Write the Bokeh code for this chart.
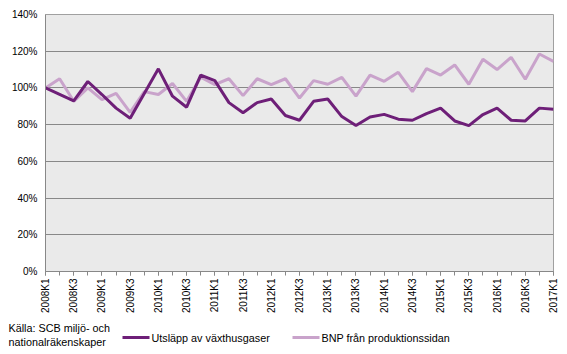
import math
from bokeh.plotting import figure
from bokeh.layouts import column
from bokeh.models import Range1d, FixedTicker, PrintfTickFormatter
from bokeh.core.properties import value
from bokeh.embed import file_html
from bokeh.resources import INLINE

quarters = [f"{y}K{q}" for y in range(2008, 2017) for q in (1, 2, 3, 4)] + ["2017K1"]

utslapp = [100, 96.5, 93, 103.5, 96.4, 89, 83.5, 97,
           110.4, 95.5, 89.5, 107, 104, 92, 86.5, 92,
           94, 85, 82.4, 92.7, 94, 84.4, 79.5, 84.2,
           85.6, 83, 82.4, 86, 89, 82, 79.5, 85.5,
           89, 82.4, 82, 89, 88.4]

bnp = [100, 105, 92.7, 100, 93.6, 97, 86.7, 98,
       96.4, 102.4, 92.7, 105.8, 101.8, 105, 95.8, 105,
       101.8, 105, 94.5, 104, 102, 105.8, 95.5, 107,
       103.6, 108.5, 98, 110.5, 107, 112.5, 102, 115.6,
       110, 116.7, 104.7, 118.5, 114.5]

y_ticks = [0, 20, 40, 60, 80, 100, 120, 140]

name_utslapp = "Utsläpp av växthusgaser"
name_bnp = "BNP från produktionssidan"
source_lines = ["Källa: SCB miljö- och", "nationalräkenskaper"]

dark = "#6E1F78"
light = "#C9A3CB"
FONT = "Liberation Sans"
LEG_SIZE = "10.8px"

idx = list(range(len(quarters)))

p = figure(width=567, height=320, output_backend="svg", toolbar_location=None,
           x_range=Range1d(0, len(quarters) - 1), y_range=Range1d(0, 140),
           min_border_left=45, min_border_right=14, min_border_top=14,
           min_border_bottom=49)
p.background_fill_color = "#EAEAEA"
p.border_fill_color = "white"
p.outline_line_color = "#A0A0A0"
p.outline_line_width = 1

p.line(idx, bnp, line_color=light, line_width=3)
p.line(idx, utslapp, line_color=dark, line_width=3)

# x axis
p.xaxis.ticker = FixedTicker(ticks=list(range(0, len(quarters), 2)),
                             minor_ticks=idx)
p.xaxis.major_label_overrides = {i: quarters[i] for i in range(0, len(quarters), 2)}
p.xaxis.major_label_orientation = math.pi / 2
p.xaxis.major_tick_in = 0
p.xaxis.major_tick_out = 4
p.xaxis.minor_tick_in = 0
p.xaxis.minor_tick_out = 4
p.xaxis.axis_line_color = "#888888"
p.xaxis.major_tick_line_color = "#888888"
p.xaxis.minor_tick_line_color = "#888888"
p.xaxis.major_label_text_font = FONT
p.xaxis.major_label_text_font_size = "10px"
p.xaxis.major_label_text_color = "#000000"
p.xaxis.major_label_standoff = 3
p.xgrid.grid_line_color = None

# y axis
p.yaxis.ticker = FixedTicker(ticks=y_ticks)
p.yaxis.formatter = PrintfTickFormatter(format="%d%%")
p.yaxis.major_tick_in = 0
p.yaxis.major_tick_out = 0
p.yaxis.minor_tick_line_color = None
p.yaxis.axis_line_color = "#888888"
p.yaxis.major_label_text_font = FONT
p.yaxis.major_label_text_font_size = "10px"
p.yaxis.major_label_text_color = "#000000"
p.yaxis.major_label_standoff = 8
p.ygrid.grid_line_color = "#888888"
p.ygrid.grid_line_width = 1

# legend / source strip (separate, unaligned figure)
leg = figure(width=567, height=34, output_backend="svg", toolbar_location=None,
             x_range=Range1d(0, 567), y_range=Range1d(354, 320),
             x_axis_type=None, y_axis_type=None,
             min_border=0, min_border_left=0, min_border_right=0,
             min_border_top=0, min_border_bottom=0)
leg.grid.visible = False
leg.outline_line_color = None
leg.background_fill_color = "white"
leg.border_fill_color = "white"

leg.text(x=[8, 8], y=[327, 341], text=source_lines, text_font=value(FONT),
         text_font_size=LEG_SIZE, text_baseline="middle", text_color="#000000")
leg.segment(x0=[122], y0=[337], x1=[149], y1=[337], line_color=dark, line_width=3)
leg.text(x=[151], y=[337], text=[name_utslapp], text_font=value(FONT),
         text_font_size=LEG_SIZE, text_baseline="middle", text_color="#000000")
leg.segment(x0=[292], y0=[337], x1=[319], y1=[337], line_color=light, line_width=3)
leg.text(x=[321], y=[337], text=[name_bnp], text_font=value(FONT),
         text_font_size=LEG_SIZE, text_baseline="middle", text_color="#000000")

layout = column(column(p), column(leg), spacing=0)

open("out.html", "w").write(file_html(layout, INLINE))
